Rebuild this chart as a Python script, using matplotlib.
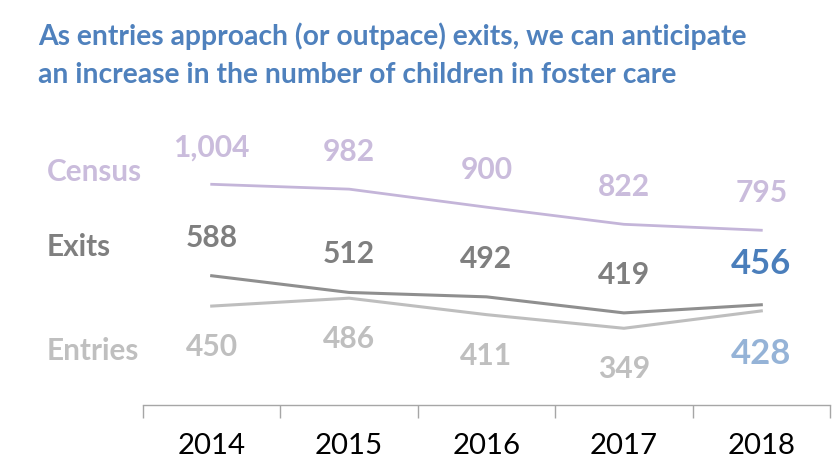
import matplotlib
matplotlib.use("Agg")
import matplotlib.pyplot as plt
from matplotlib.font_manager import FontProperties
from matplotlib.textpath import TextPath

years = ["2014", "2015", "2016", "2017", "2018"]
census = [1004, 982, 900, 822, 795]
exits = [588, 512, 492, 419, 456]
entries = [450, 486, 411, 349, 428]
series_names = ["Census", "Exits", "Entries"]
title_lines = ["As entries approach (or outpace) exits, we can anticipate",
               "an increase in the number of children in foster care"]

W, H, DPI = 836, 474, 100
FAM = "Lato"

def fit(s, px, weight="normal"):
    fp = FontProperties(family=FAM, weight=weight)
    w = TextPath((0, 0), s, size=100, prop=fp).get_extents().width
    return px / (w / 100 * DPI / 72)

def fx(x):
    return x / W

def fy(y):
    return 1 - y / H

fig = plt.figure(figsize=(W / DPI, H / DPI), dpi=DPI)
ax = fig.add_axes([fx(143), fy(405), (830 - 143) / W, (405 - 163.2) / H])
ax.set_xlim(-0.5, 4.5)
ax.set_ylim(0, 1100)
x = list(range(len(years)))

c_census_line = "#C4B5D9"
c_census_txt = "#CABCDC"
c_exits_line = "#8F8F8F"
c_exits_txt = "#7F7F7F"
c_entries_line = "#BEBEBE"
c_entries_txt = "#BFBFBF"
c_blue = "#4A7EBB"
c_lblue = "#95B3D7"

ax.plot(x, census, color=c_census_line, lw=2.0, solid_joinstyle="round")
ax.plot(x, exits, color=c_exits_line, lw=2.2, solid_joinstyle="round")
ax.plot(x, entries, color=c_entries_line, lw=2.2, solid_joinstyle="round")

for s in ["top", "right", "left"]:
    ax.spines[s].set_visible(False)
ax.spines["bottom"].set_color("#A6A6A6")
ax.spines["bottom"].set_linewidth(1.0)
ax.set_yticks([])
ax.set_xticks(x)
ax.set_xticklabels(years)
ax.set_xticks([i - 0.5 for i in range(len(years) + 1)], minor=True)
ax.tick_params(axis="x", which="major", length=0, pad=20,
               labelsize=fit("2014", 66), labelcolor="#000000")
ax.tick_params(axis="x", which="minor", length=9.5, width=1.0, color="#A6A6A6",
               direction="out")
for lab in ax.get_xticklabels():
    lab.set_fontfamily(FAM)

lab_fs = fit("1,004", 74, "bold")
big_fs = fit("456", 59, "bold")
pt = 72 / DPI

for i, v in enumerate(census):
    s = f"{v:,}"
    ax.annotate(s, (i, v), xytext=(0, 37 * pt), textcoords="offset points",
                ha="center", va="center", fontsize=lab_fs, fontweight="bold",
                color=c_census_txt, family=FAM)
for i, v in enumerate(exits):
    last = i == len(exits) - 1
    ax.annotate(f"{v:,}", (i, v), xytext=(0, (41 if last else 38) * pt),
                textcoords="offset points", ha="center", va="center",
                fontsize=big_fs if last else lab_fs, fontweight="bold",
                color=c_blue if last else c_exits_txt, family=FAM)
for i, v in enumerate(entries):
    last = i == len(entries) - 1
    ax.annotate(f"{v:,}", (i, v), xytext=(0, -(43 if last else 41) * pt),
                textcoords="offset points", ha="center", va="center",
                fontsize=big_fs if last else lab_fs, fontweight="bold",
                color=c_lblue if last else c_entries_txt, family=FAM)

# series names on the left
name_fs = fit("Census", 93, "bold")
name_y = [172, 247, 351]
name_c = [c_census_txt, c_exits_txt, c_entries_txt]
for n, yy, c in zip(series_names, name_y, name_c):
    fig.text(fx(47), fy(yy), n, ha="left", va="center", fontsize=name_fs,
             color=c, family=FAM, fontweight="bold")

# title
t_fs = fit(title_lines[0], 707, "bold")
for line, yb in zip(title_lines, [45, 83]):
    fig.text(fx(38), fy(yb), line, ha="left", va="baseline", fontsize=t_fs,
             fontweight="bold", color="#4F81BD", family=FAM)

fig.savefig("out.png", dpi=DPI)
